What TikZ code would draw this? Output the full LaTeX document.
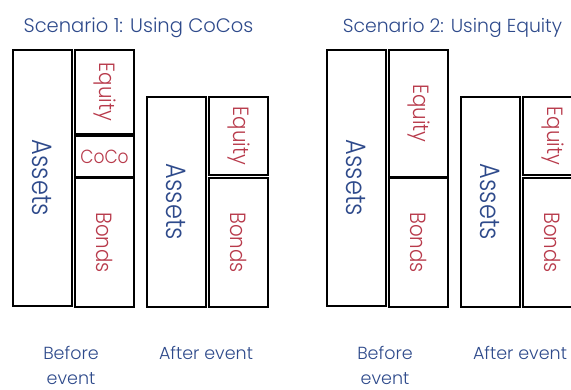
\documentclass[tikz,border=0pt]{standalone}
\usepackage{fontspec}
\setmainfont{Poppins}[UprightFont=* Light]
\definecolor{tblue}{HTML}{2E4A8B}
\definecolor{tred}{HTML}{B83A4B}
\newcommand{\assettxt}[1]{\scalebox{0.86}[1]{#1}}
\newcommand{\liabtxt}[1]{\scalebox{0.9}[1]{#1}}
\begin{document}
\begin{tikzpicture}[x=1pt,y=-1pt,
  box/.style={draw=black, line width=1.8pt, rectangle, inner sep=0pt, fill=white},
  asset/.style={text=tblue, rotate=-90, font=\fontsize{28}{28}\selectfont, inner sep=0pt},
  liab/.style={text=tred, rotate=-90, font=\fontsize{22}{22}\selectfont, inner sep=0pt},
  title/.style={text=tblue, anchor=base, font=\fontsize{19.5}{19.5}\selectfont, inner sep=0pt},
  lab/.style={text=tblue, anchor=base, font=\fontsize{17.5}{17.5}\selectfont, inner sep=0pt}]
\useasboundingbox (0,0) rectangle (571,389);
% Scenario 1
\node[title] (t1) at (138.5,32) {Scenario 1: Using CoCos};
\node[box, minimum width=59pt, minimum height=256pt] (A1) at (42.5,178) {};
\node[box, minimum width=59pt, minimum height=84pt] (E1) at (104.5,92) {};
\node[box, minimum width=59pt, minimum height=41pt] (C1) at (104.5,156.5) {};
\node[box, minimum width=59pt, minimum height=129pt] (B1) at (104.5,242.5) {};
\node[box, minimum width=59pt, minimum height=210pt] (A2) at (176.5,202) {};
\node[box, minimum width=59pt, minimum height=78pt] (E2) at (238.5,136) {};
\node[box, minimum width=59pt, minimum height=129pt] (B2) at (238.5,242.5) {};
\node[asset] (A1t) at (A1.center) {\assettxt{Assets}};
\node[liab] (E1t) at (E1.center) {\liabtxt{Equity}};
\node[text=tred, inner sep=0pt, font=\fontsize{19}{19}\selectfont] (C1t) at (C1.center) {\liabtxt{CoCo}};
\node[liab] (B1t) at (B1.center) {\liabtxt{Bonds}};
\node[asset] (A2t) at (A2.center) {\assettxt{Assets}};
\node[liab] (E2t) at (E2.center) {\liabtxt{Equity}};
\node[liab] (B2t) at (B2.center) {\liabtxt{Bonds}};
\node[lab] (l1) at (71,359) {Before};
\node[lab] (l1b) at (71,384) {event};
\node[lab] (l2) at (206,359) {After event};
% Scenario 2
\node[title, font=\fontsize{18.8}{18.8}\selectfont] (t2) at (452.5,32) {Scenario 2: Using Equity};
\node[box, minimum width=59pt, minimum height=256pt] (A3) at (356.5,178) {};
\node[box, minimum width=59pt, minimum height=127pt] (E3) at (418.5,113.5) {};
\node[box, minimum width=59pt, minimum height=129pt] (B3) at (418.5,242.5) {};
\node[box, minimum width=59pt, minimum height=210pt] (A4) at (490.5,202) {};
\node[box, minimum width=59pt, minimum height=78pt] (E4) at (552.5,136) {};
\node[box, minimum width=59pt, minimum height=129pt] (B4) at (552.5,242.5) {};
\node[asset] (A3t) at (A3.center) {\assettxt{Assets}};
\node[liab] (E3t) at (E3.center) {\liabtxt{Equity}};
\node[liab] (B3t) at (B3.center) {\liabtxt{Bonds}};
\node[asset] (A4t) at (A4.center) {\assettxt{Assets}};
\node[liab] (E4t) at (E4.center) {\liabtxt{Equity}};
\node[liab] (B4t) at (B4.center) {\liabtxt{Bonds}};
\node[lab] (l3) at (385,359) {Before};
\node[lab] (l3b) at (385,384) {event};
\node[lab] (l4) at (520,359) {After event};
\end{tikzpicture}
\end{document}
